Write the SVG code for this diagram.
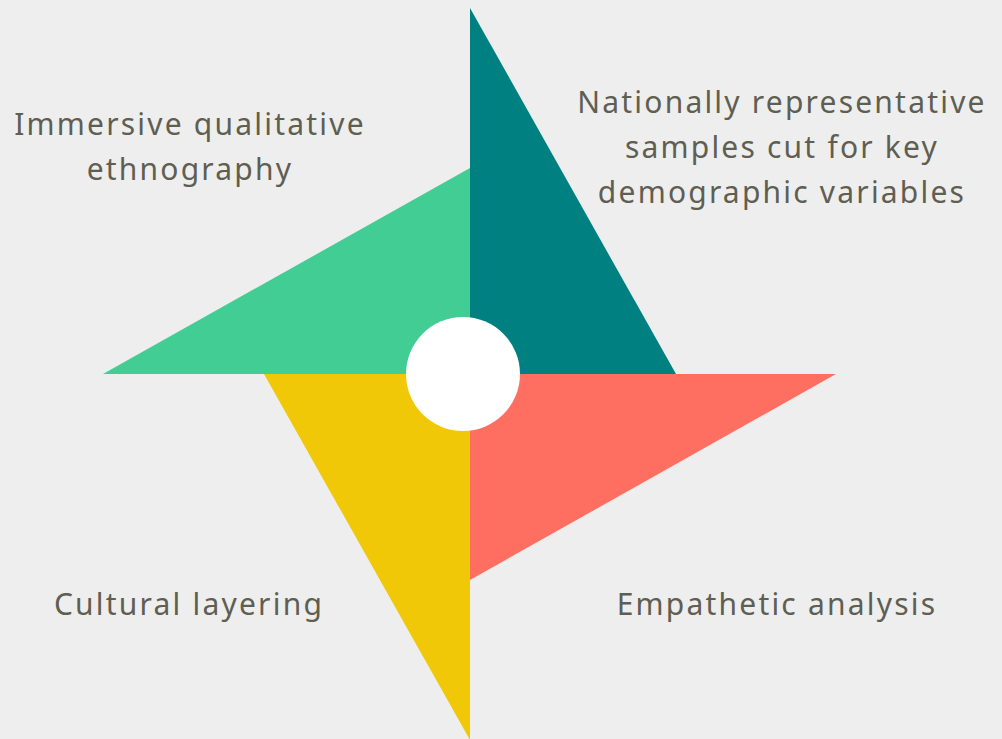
<svg xmlns="http://www.w3.org/2000/svg" width="1002" height="739" viewBox="0 0 1002 739">
<style>
.lbl{font-family:"Noto Sans","Open Sans",sans-serif;font-size:30px;letter-spacing:2.2px;fill:#5f5e52;text-anchor:middle}
</style>
<rect x="0" y="0" width="1002" height="739" fill="#eeeeee"/>
<g id="teal"><polygon points="470,8 470,374 676,374" fill="#008080"/></g>
<g id="green"><polygon points="103,374 470,374 470,168" fill="#41cd93"/></g>
<g id="yellow"><polygon points="264,374 470,374 470,740" fill="#f0c808"/></g>
<g id="red"><polygon points="470,374 836,374 470,580" fill="#ff6f61"/></g>
<g id="center"><circle cx="463" cy="374" r="57" fill="#ffffff"/></g>
<g id="label-tl"><text class="lbl" x="190" y="135">Immersive qualitative</text><text class="lbl" x="190" y="180">ethnography</text></g>
<g id="label-tr"><text class="lbl" x="782" y="113">Nationally representative</text><text class="lbl" x="782" y="158">samples cut for key</text><text class="lbl" x="782" y="203">demographic variables</text></g>
<g id="label-bl"><text class="lbl" x="189" y="615">Cultural layering</text></g>
<g id="label-br"><text class="lbl" x="777" y="615">Empathetic analysis</text></g>
</svg>
